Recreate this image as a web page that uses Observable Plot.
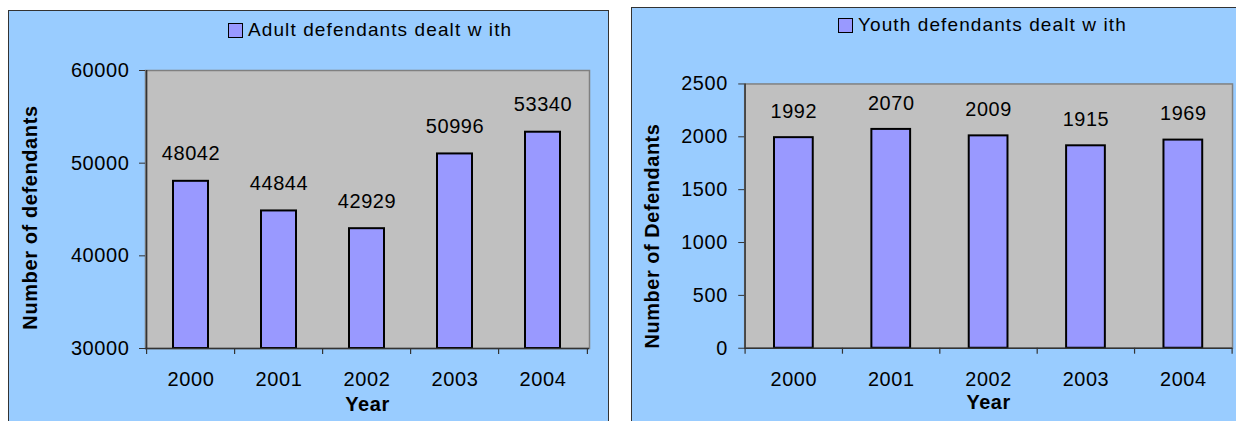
<!DOCTYPE html>
<html>
<head>
<meta charset="utf-8">
<script src="https://cdn.jsdelivr.net/npm/d3@7"></script>
<script src="https://cdn.jsdelivr.net/npm/@observablehq/plot@0.6"></script>
<style>
  html, body { margin: 0; padding: 0; background: #ffffff; }
  body { position: relative; width: 1236px; height: 421px; overflow: hidden; font-family: "Liberation Sans", Arial, sans-serif; }
  .panel { position: absolute; background: #99CCFF; box-sizing: border-box; }
  .legend { position: absolute; display: flex; align-items: center; font-size: 19px; letter-spacing: 1.1px; color: #000; white-space: nowrap; }
  .legend .sw { width: 13px; height: 13px; background: #9999FF; border: 1.5px solid #000; margin-right: 5px; }
  .chart { position: absolute; top: 0; }
  .chart svg { overflow: visible; }
  .chart text { letter-spacing: 0.6px; }
</style>
</head>
<body>
<div class="panel" style="left:8px; top:10px; width:601px; height:430px; border:1.5px solid #333;"></div>
<div class="panel" style="left:631px; top:7px; width:640px; height:430px; border:1.5px solid #333;"></div>
<div class="legend" style="left:228px; top:19px;"><div class="sw"></div><span>Adult defendants dealt w ith</span></div>
<div class="legend" style="left:838px; top:14px;"><div class="sw"></div><span>Youth defendants dealt w ith</span></div>
<div id="left" class="chart" style="left:0px;"></div>
<div id="right" class="chart" style="left:620px;"></div>
<script>
// ---- data ----
const years = ["2000", "2001", "2002", "2003", "2004"];
const adultValues = [48042, 44844, 42929, 50996, 53340];
const youthValues = [1992, 2070, 2009, 1915, 1969];
const adultTicks = [30000, 40000, 50000, 60000];
const youthTicks = [0, 500, 1000, 1500, 2000, 2500];
const adultTitle = "Number of defendants";
const youthTitle = "Number of Defendants";
const xTitle = "Year";

function drawChart(el, cfg) {
  const data = years.map((year, i) => ({year, value: cfg.values[i]}));
  const W = 620, H = 421;
  const plotW = W - cfg.ml - cfg.mr;
  const plotH = H - cfg.mt - cfg.mb;
  const step = plotW / years.length;
  const yMin = cfg.ticks[0], yMax = cfg.ticks[cfg.ticks.length - 1];
  const chart = Plot.plot({
    width: W,
    height: H,
    marginLeft: cfg.ml,
    marginRight: cfg.mr,
    marginTop: cfg.mt,
    marginBottom: cfg.mb,
    style: {background: "transparent", fontFamily: "'Liberation Sans', Arial, sans-serif", fontSize: "20px", color: "#000", overflow: "visible"},
    x: {type: "band", domain: years, paddingInner: 0.6, paddingOuter: 0.3},
    y: {domain: [yMin, yMax]},
    marks: [
      Plot.frame({fill: "#C0C0C0", stroke: "#808080", strokeWidth: 1.5}),
      Plot.barY(data, {x: "year", y1: yMin, y2: "value", fill: "#9999FF", stroke: "#000", strokeWidth: 2}),
      Plot.text(data, {x: "year", y: "value", text: d => String(d.value), dy: -cfg.labelGap, lineAnchor: "bottom", fontSize: 20, fill: "#000"}),
      // axis lines
      Plot.ruleY([yMin], {stroke: "#333", strokeWidth: 1.5}),
      Plot.ruleX([years[0]], {x: d => d, dx: -step / 2, stroke: "#333", strokeWidth: 1.5}),
      // x tick marks on category boundaries
      Plot.ruleX(years, {x: d => d, dx: -step / 2, insetTop: plotH, insetBottom: -6, stroke: "#333", strokeWidth: 1.2}),
      Plot.ruleX([years[years.length - 1]], {x: d => d, dx: step / 2, insetTop: plotH, insetBottom: -6, stroke: "#333", strokeWidth: 1.2}),
      Plot.axisY({ticks: cfg.ticks, tickSize: 6, tickPadding: cfg.yPad, tickFormat: d => String(d), label: null, fontSize: 20, stroke: "#333"}),
      Plot.axisX({tickSize: 0, tickPadding: cfg.xPad, label: null, fontSize: 20}),
      Plot.text([xTitle], {frameAnchor: "bottom", dy: cfg.yearDy, lineAnchor: "bottom", fontWeight: "bold", fontSize: 20}),
      Plot.text([cfg.title], {frameAnchor: "left", rotate: -90, textAnchor: "middle", dx: cfg.titleDx, dy: cfg.titleDy, fontWeight: "bold", fontSize: 20, lineAnchor: "middle"})
    ]
  });
  el.appendChild(chart);
}

drawChart(document.getElementById("left"), {
  values: adultValues, ticks: adultTicks, title: adultTitle,
  ml: 145, mr: 31, mt: 70, mb: 73,
  yPad: 10, xPad: 23, labelGap: 21, yearDy: 62.5, titleDx: -115, titleDy: 8
});
drawChart(document.getElementById("right"), {
  values: youthValues, ticks: youthTicks, title: youthTitle,
  ml: 125, mr: 4, mt: 84, mb: 71,
  yPad: 11, xPad: 24, labelGap: 20, yearDy: 61, titleDx: -93, titleDy: 20
});
</script>
</body>
</html>
